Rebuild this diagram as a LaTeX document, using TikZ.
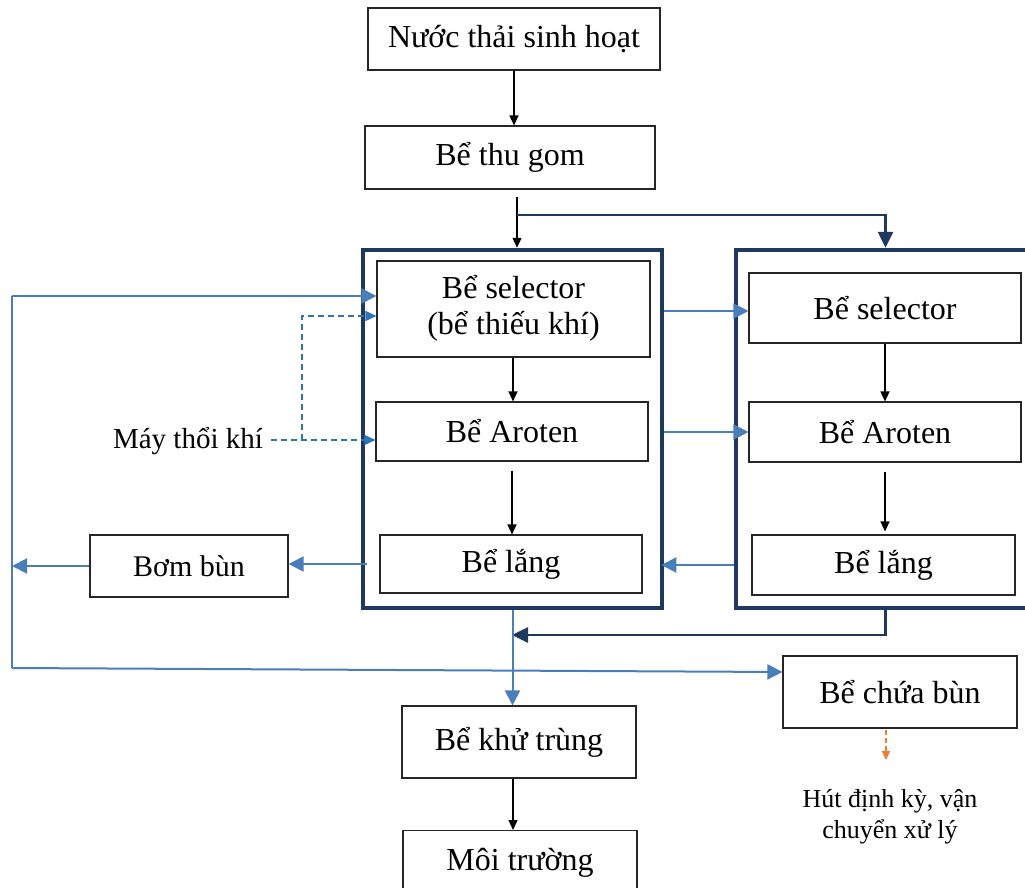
\documentclass[tikz,border=0pt]{standalone}
\usepackage{fontspec}
\setmainfont{Liberation Serif}
\usetikzlibrary{arrows.meta}
\definecolor{navy}{RGB}{31,56,96}
\definecolor{bblue}{RGB}{74,126,187}
\definecolor{dblue}{RGB}{46,117,182}
\definecolor{borange}{RGB}{237,125,49}
\tikzset{
  box/.style={draw=black!85, line width=1.1pt, fill=white, inner sep=0pt, align=center, font=\fontsize{32}{37}\selectfont},
  frame/.style={draw=navy, line width=4.5pt, inner sep=0pt},
  blk/.style={draw=black, line width=1.2pt, -{Triangle[length=10pt,width=9pt]}},
  blu/.style={draw=bblue, line width=2pt, -{Triangle[length=15pt,width=15pt]}},
  blun/.style={draw=bblue, line width=2pt},
  nav/.style={draw=navy, line width=2.6pt, -{Triangle[length=16pt,width=15pt]}},
  dsh/.style={draw=dblue, line width=1.6pt, dash pattern=on 6pt off 4pt, -{Triangle[length=11pt,width=10pt]}},
  org/.style={draw=borange, line width=1.4pt, dash pattern=on 5pt off 3pt, -{Triangle[length=9pt,width=8pt]}},
  lbl/.style={inner sep=0pt, align=center}
}
\begin{document}
\begin{tikzpicture}[x=1pt,y=-1pt]
\useasboundingbox (0,0) rectangle (1025,888);
% frames
\node[frame, minimum width=299pt, minimum height=358pt] (f1) at (512.5,429) {};
\node[frame, minimum width=299pt, minimum height=358pt] (f2) at (885.5,429) {};
% boxes
\node[box, minimum width=292pt, minimum height=62pt] (top) at (514,39) {\raisebox{-2pt}{Nước thải sinh hoạt}};
\node[box, minimum width=290pt, minimum height=63pt] (thu) at (510,157.5) {Bể thu gom};
\node[box, minimum width=273pt, minimum height=96pt] (sel1) at (513.5,309) {\raisebox{-5pt}{\begin{tabular}{@{}c@{}}Bể selector\\[-1pt](bể thiếu khí)\end{tabular}}};
\node[box, minimum width=272pt, minimum height=59pt] (aro1) at (512,431.5) {Bể Aroten};
\node[box, minimum width=262pt, minimum height=58pt] (lang1) at (511,564) {Bể lắng};
\node[box, minimum width=272pt, minimum height=70pt] (sel2) at (885,308) {Bể selector};
\node[box, minimum width=272pt, minimum height=60pt] (aro2) at (885,432) {Bể Aroten};
\node[box, minimum width=263pt, minimum height=60pt] (lang2) at (883.5,565) {Bể lắng};
\node[box, minimum width=198pt, minimum height=62pt, font=\fontsize{30}{34}\selectfont] (bom) at (189,566) {Bơm bùn};
\node[box, minimum width=234pt, minimum height=72pt] (chua) at (900,692) {Bể chứa bùn};
\node[box, minimum width=234pt, minimum height=72pt] (khu) at (519,742) {Bể khử trùng};
\node[box, minimum width=234pt, minimum height=64pt, anchor=north] (moi) at (520,830) {\raisebox{-2pt}{Môi trường}};
\node[lbl, font=\fontsize{29}{33}\selectfont] (mtk) at (188,441) {Máy thổi khí};
\node[lbl, font=\fontsize{26}{31}\selectfont] (hut) at (890,817) {Hút định kỳ, vận\\chuyển xử lý};
% coordinates
\coordinate (s1) at (517,197);
\coordinate (j) at (517,215);
\coordinate (L1) at (12,296);
\coordinate (L2) at (12,668);
\coordinate (D) at (302,440);
\coordinate (D2) at (302,316);
\coordinate (M) at (512,635);
\coordinate (o1) at (886,730);
\coordinate (o2) at (886,760);
% black arrows
\draw[blk] (top.south) -- (top.south |- thu.north);
\draw[blk] (s1) -- (s1 |- f1.north);
\draw[blk] ([xshift=-0.5pt]sel1.south) -- ([xshift=-0.5pt]sel1.south |- aro1.north);
\draw[blk] ([yshift=-9pt]aro1.south) -- (aro1.south |- lang1.north);
\draw[blk] (sel2.south) -- (sel2.south |- aro2.north);
\draw[blk] ([yshift=-9pt]aro2.south) -- ([yshift=3pt]aro2.south |- lang2.north);
\draw[blk] ([xshift=-6pt]khu.south) -- ([xshift=-6pt]khu.south |- moi.north);
% navy arrows
\draw[nav] (j) -| (f2.north);
\draw[nav] (f2.south) |- (M);
% blue arrows
\draw[blu] (f1.east |- 0,311) -- (sel2.west |- 0,311);
\draw[blu] (f1.east |- aro2.west) -- (aro2.west);
\draw[blu] (f2.west |- lang2.west) -- ([xshift=-3pt]f1.east |- lang2.west);
\draw[blu] ([xshift=6pt]f1.west |- lang1.west) -- (bom.east |- lang1.west);
\draw[blu] (bom.west) -- (L1 |- bom.west);
\draw[blun] (L2) -- (L1);
\draw[blu] (L1) -- (L1 -| sel1.west);
\draw[blu] (L2) -- ([yshift=20pt]chua.west);
\draw[blu] (f1.south) -- (f1.south |- khu.north);
% dashed
\draw[dsh] ([xshift=8pt]D -| mtk.east) -- (D) -- (D -| aro1.west);
\draw[dsh] (D) -- (D2) -- (D2 -| sel1.west);
\draw[org] (o1) -- (o2);
\end{tikzpicture}
\end{document}
